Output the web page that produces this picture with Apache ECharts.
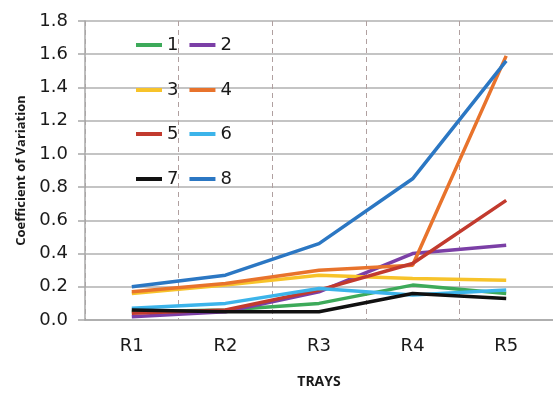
<!DOCTYPE html>
<html>
<head>
<meta charset="utf-8">
<script src="https://cdn.jsdelivr.net/npm/echarts@6/dist/echarts.min.js"></script>
<style>html,body{margin:0;padding:0;background:#fff}#c{width:553px;height:394px}</style>
</head>
<body>
<div id="c"></div>
<script>
var categories = ['R1', 'R2', 'R3', 'R4', 'R5'];
var yTicks = [0, 0.2, 0.4, 0.6, 0.8, 1.0, 1.2, 1.4, 1.6, 1.8];
var seriesNames = ['1', '2', '3', '4', '5', '6', '7', '8'];
var s1 = [0.05, 0.06, 0.10, 0.21, 0.16];
var s2 = [0.02, 0.05, 0.17, 0.40, 0.45];
var s3 = [0.16, 0.21, 0.27, 0.25, 0.24];
var s4 = [0.17, 0.22, 0.30, 0.33, 1.59];
var s5 = [0.04, 0.06, 0.18, 0.34, 0.72];
var s6 = [0.07, 0.10, 0.19, 0.15, 0.18];
var s7 = [0.06, 0.05, 0.05, 0.16, 0.13];
var s8 = [0.20, 0.27, 0.46, 0.85, 1.56];
var allData = [s1, s2, s3, s4, s5, s6, s7, s8];
var colors = ['#3daa5a', '#7b3fa6', '#f7c32a', '#e8732c', '#c23a2e', '#3cb4ea', '#111111', '#2b77c3'];

var FONT = 'DejaVu Sans';
var legendRows = [[0, 1], [2, 3], [4, 5], [6, 7]];
var legendTops = [31, 76, 120, 165];
var legends = legendRows.map(function (r, i) {
  return {
    left: 131, top: legendTops[i], orient: 'horizontal',
    data: r.map(function (k) { return seriesNames[k]; }),
    icon: 'rect', itemWidth: 26, itemHeight: 4, itemGap: 11,
    textStyle: { fontFamily: FONT, fontSize: 18, color: '#1a1a1a' },
    selectedMode: false
  };
});

var chart = echarts.init(document.getElementById('c'));
chart.setOption({
  animation: false,
  backgroundColor: '#fff',
  color: colors,
  legend: legends,
  grid: { left: 85, right: -2, top: 21, bottom: 70 },
  xAxis: {
    type: 'category', data: categories, boundaryGap: true,
    name: 'TRAYS', nameLocation: 'middle', nameGap: 55,
    nameTextStyle: { fontFamily: 'Open Sans', fontWeight: 'bold', fontSize: 14, color: '#1a1a1a' },
    axisLine: { lineStyle: { color: '#a8a8a8', width: 1.5 } },
    axisTick: { show: false },
    axisLabel: { fontFamily: FONT, fontSize: 18, color: '#1a1a1a', margin: 17 },
    splitLine: { show: true, interval: 0, lineStyle: { color: '#b0a0a0', type: [5, 4], width: 1 } }
  },
  yAxis: {
    type: 'value', min: 0, max: 1.8, interval: 0.2,
    name: 'Coefficient of Variation', nameLocation: 'middle', nameGap: 57,
    nameTextStyle: { fontFamily: 'Open Sans', fontWeight: 'bold', fontSize: 13, color: '#1a1a1a' },
    axisLine: { show: true, lineStyle: { color: '#a8a8a8', width: 1.5 } },
    axisTick: { show: true, length: 7, lineStyle: { color: '#a8a8a8', width: 1.5 } },
    axisLabel: { fontFamily: FONT, fontSize: 18, color: '#1a1a1a', margin: 17,
      formatter: function (v) { return v.toFixed(1); } },
    splitLine: { lineStyle: { color: '#b0b0b0', width: 1.5 } }
  },
  series: allData.map(function (d, i) {
    return {
      name: seriesNames[i], type: 'line', data: d,
      showSymbol: false, symbol: 'none',
      lineStyle: { width: 3.5, color: colors[i] },
      itemStyle: { color: colors[i] }
    };
  })
});
</script>
</body>
</html>
